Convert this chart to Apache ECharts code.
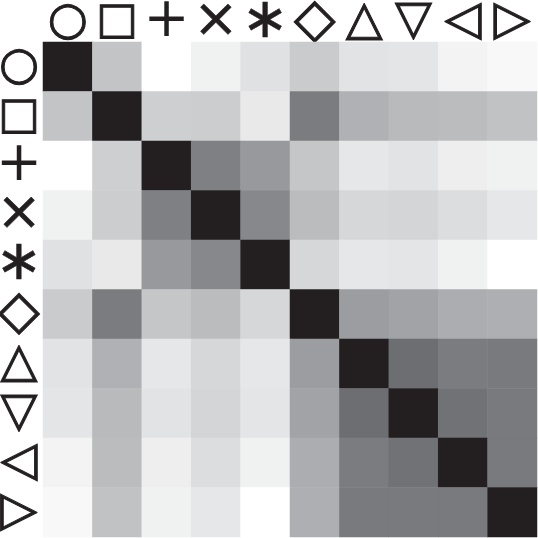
<!DOCTYPE html>
<html><head><meta charset="utf-8">
<script src="https://cdn.jsdelivr.net/npm/echarts@6/dist/echarts.min.js"></script>
<style>html,body{margin:0;padding:0;background:#fff}#c{width:538px;height:538px}</style>
</head><body><div id="c"></div>
<script>
const labels = ['○','□','+','×','∗','◇','△','▽','◁','▷'];
// tint (K %) of each cell, row by row
const row0 = [100, 27, 0, 6, 13, 24, 12, 11, 5, 3];
const row1 = [27, 100, 22, 23, 9, 63, 36, 32, 31, 28];
const row2 = [0, 22, 100, 61, 48, 26, 10, 12, 7, 6];
const row3 = [6, 23, 61, 100, 57, 31, 18, 19, 15, 10];
const row4 = [13, 9, 48, 57, 100, 18, 10, 11, 6, 0];
const row5 = [24, 63, 26, 31, 18, 100, 46, 43, 38, 37];
const row6 = [12, 36, 10, 18, 10, 46, 100, 70, 63, 64];
const row7 = [11, 32, 12, 19, 11, 43, 70, 100, 68, 64];
const row8 = [5, 31, 7, 15, 6, 38, 63, 68, 100, 64];
const row9 = [3, 28, 6, 10, 0, 37, 64, 64, 64, 100];
const rows = [row0,row1,row2,row3,row4,row5,row6,row7,row8,row9];

const data = [];
rows.forEach((r, y) => r.forEach((v, x) => data.push([x, y, v])));

const ink = '#231f20';
function st(size, border, font) {
  return {fontFamily: font || 'DejaVu Sans', fontSize: size, color: ink,
          textBorderColor: ink, textBorderWidth: border};
}
const rich = {
  s0: st(46, 1), s1: st(44, 1), s2: st(55, 0), s3: st(54, 0.6),
  s4: st(56, 0.5), s5: st(54, 1), s6: st(48, 1), s7: st(48, 1), s8: st(48, 1), s9: st(48, 1)
};
const fmt = v => `{s${labels.indexOf(v)}|${v}}`;

const chart = echarts.init(document.getElementById('c'));
chart.setOption({
  animation: false,
  grid: {left: 43, top: 42, right: 1, bottom: 1, containLabel: false, outerBoundsMode: 'none'},
  xAxis: {type: 'category', data: labels, position: 'top',
    axisLine: {show: false}, axisTick: {show: false}, splitLine: {show: false},
    axisLabel: {margin: 20, verticalAlign: 'middle', interval: 0, hideOverlap: false, formatter: fmt, rich: rich}},
  yAxis: {type: 'category', data: labels, inverse: true,
    axisLine: {show: false}, axisTick: {show: false}, splitLine: {show: false},
    axisLabel: {margin: 24, align: 'center', interval: 0, hideOverlap: false, formatter: fmt, rich: rich}},
  visualMap: {show: false, min: 0, max: 100, dimension: 2,
    inRange: {color: ['#ffffff','#e6e7e8','#d1d3d4','#bcbec0','#a7a9ac','#939598','#808285','#6d6e71','#58595b','#414042','#231f20']}},
  series: [{type: 'heatmap', data: data, itemStyle: {borderWidth: 0}, emphasis: {disabled: true}}]
});
</script></body></html>
